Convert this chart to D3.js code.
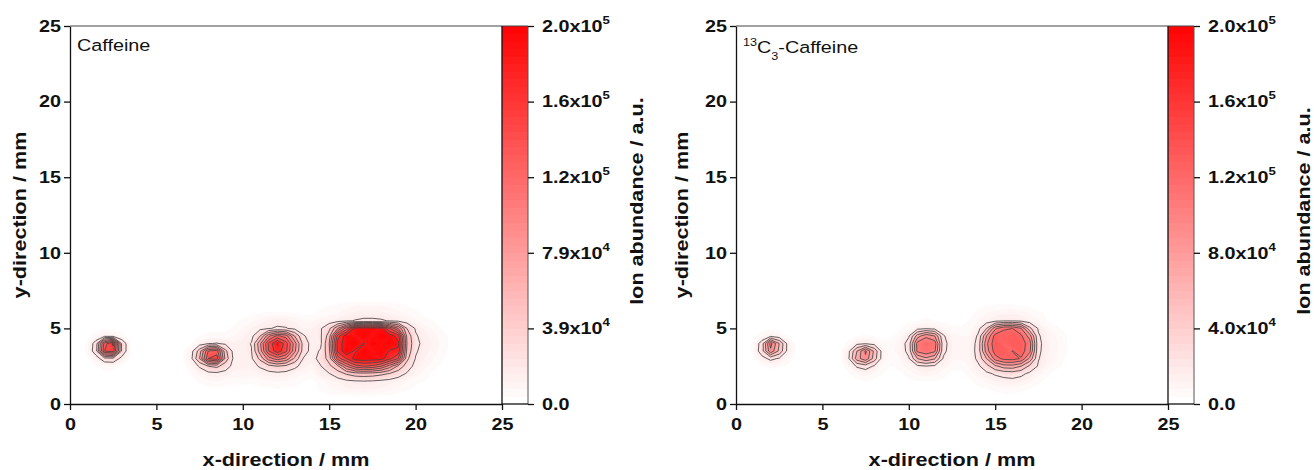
<!DOCTYPE html>
<html>
<head>
<meta charset="utf-8">
<script src="https://cdn.jsdelivr.net/npm/d3@7"></script>
<style>
  body { margin: 0; background: #fff; }
</style>
</head>
<body>
<svg id="chart" width="1314" height="470"></svg>
<script>
// ion images, sampled every 0.5 mm, values in 10^3 counts
// columns: x = 0.5 ... 22.5 mm, rows: y = 7.0 (top) ... 0.5 mm
const gridX0 = 0.5, gridStep = 0.5, gridYTop = 7.0;
const valueUnit = 1000;

const caffeine = [
  [0,0,0,0,0,0,0,0,0,0, 0,0,0,0,0,0,0,0,0,0, 0,0,0,0,0,0,0,0,0,0, 0,0,0,0,0,0,0,0,0,0, 0,0,0,0,0],
  [0,0,0,0,0,0,0,0,0,0, 0,0,0,0,0,0,0,0,0,0, 0,0,0,0,0,0,0,0,3,4, 5,7,8,8,8,8,7,6,4,3, 2,0,0,0,0],
  [0,0,0,0,0,0,0,0,0,0, 0,0,0,0,0,0,0,0,0,2, 3,4,5,5,5,4,3,3,5,6, 8,11,13,14,14,13,11,9,7,5, 3,2,0,0,0],
  [0,0,0,0,0,0,0,0,0,0, 0,0,0,0,0,0,0,2,3,5, 7,10,13,15,14,11,8,8,10,12, 14,18,21,23,23,22,19,16,12,9, 6,4,2,0,0],
  [0,0,2,3,3,2,0,0,0,0, 0,0,0,0,2,2,2,3,5,8, 12,16,19,22,21,16,11,12,18,35, 80,130,188,192,190,188,140,100,40,18, 10,7,4,2,0],
  [0,2,8,14,12,6,2,0,0,0, 0,0,0,2,4,6,6,5,8,11, 15,40,95,125,110,60,22,13,17,50, 150,194,185,196,186,196,192,170,55,22, 14,10,6,3,0],
  [0,5,28,130,165,35,4,0,0,0, 0,0,2,4,12,19,21,17,13,13, 21,75,145,182,150,90,32,13,16,60, 170,190,198,178,196,190,195,185,60,24, 16,11,7,3,0],
  [0,6,30,140,150,35,4,0,0,0, 0,0,3,12,50,120,130,45,12,13, 19,70,140,172,145,85,30,13,22,55, 165,196,176,197,186,194,178,175,55,22, 14,10,6,3,0],
  [0,3,12,30,32,14,3,0,0,0, 0,0,3,14,60,140,150,52,14,12, 17,45,90,110,95,55,19,14,26,48, 130,160,190,192,190,188,165,140,45,19, 12,8,5,2,0],
  [0,0,4,7,7,4,0,0,0,0, 0,0,0,9,22,40,45,28,14,13, 14,22,32,40,34,24,14,10,19,35, 55,100,130,140,135,120,90,55,30,14, 9,6,3,0,0],
  [0,0,0,2,2,0,0,0,0,0, 0,0,0,5,10,14,15,14,10,10, 9,12,14,15,14,11,8,6,14,19, 30,42,50,52,50,45,38,28,18,10, 6,3,0,0,0],
  [0,0,0,0,0,0,0,0,0,0, 0,0,0,0,5,7,8,6,6,6, 5,6,7,8,7,6,4,3,6,10, 12,16,18,19,18,16,14,11,8,5, 4,2,0,0,0],
  [0,0,0,0,0,0,0,0,0,0, 0,0,0,0,2,3,3,3,2,2, 2,3,3,4,3,3,2,2,5,7, 9,11,12,13,12,11,9,7,5,3, 0,0,0,0,0],
  [0,0,0,0,0,0,0,0,0,0, 0,0,0,0,0,0,0,0,0,0, 0,0,2,2,2,0,0,0,2,3, 3,3,3,3,3,3,3,2,0,0, 0,0,0,0,0]
];

const caffeine13C3 = [
  [0,0,0,0,0,0,0,0,0,0, 0,0,0,0,0,0,0,0,0,0, 0,0,0,0,0,0,0,0,0,0, 0,0,0,0,0,0,0,0,0,0, 0,0,0,0,0],
  [0,0,0,0,0,0,0,0,0,0, 0,0,0,0,0,0,0,0,0,0, 0,0,0,0,0,0,0,3,4,5, 5,5,4,3,0,0,0,0,0,0, 0,0,0,0,0],
  [0,0,0,0,0,0,0,0,0,0, 0,0,0,0,0,0,0,0,0,2, 2,3,2,2,0,0,2,6,8,10, 11,11,10,8,6,3,0,0,0,0, 0,0,0,0,0],
  [0,0,0,0,0,0,0,0,0,0, 0,0,0,0,0,0,0,0,2,3, 4,5,4,3,2,2,4,8,12,16, 19,19,17,12,8,4,2,0,0,0, 0,0,0,0,0],
  [0,0,2,3,2,0,0,0,0,0, 0,0,0,0,0,0,0,2,4,8, 14,17,14,9,5,5,6,14,40,95, 118,120,101,45,18,9,6,3,0,0, 0,0,0,0,0],
  [0,2,8,14,10,4,0,0,0,0, 0,0,2,4,5,4,2,3,8,18, 70,95,80,22,10,8,8,22,80,128, 126,130,124,90,22,12,8,5,2,0, 0,0,0,0,0],
  [0,5,28,108,60,14,3,0,0,0, 0,0,6,15,18,14,6,6,10,28, 108,118,112,26,12,10,10,25,95,135, 122,132,130,110,24,13,9,5,2,0, 0,0,0,0,0],
  [0,6,30,95,55,14,3,0,0,0, 0,2,14,60,104,55,10,7,10,26, 105,115,104,24,12,10,10,26,90,130, 132,119,130,105,23,13,9,5,2,0, 0,0,0,0,0],
  [0,3,14,24,18,8,2,0,0,0, 0,2,16,70,95,50,10,6,8,18, 60,75,62,18,9,8,9,24,60,110, 126,128,118,75,21,12,8,4,2,0, 0,0,0,0,0],
  [0,0,4,6,5,3,0,0,0,0, 0,0,8,22,28,18,6,4,6,10, 16,19,16,10,6,6,8,16,32,55, 70,72,60,35,18,10,6,3,0,0, 0,0,0,0,0],
  [0,0,0,0,0,0,0,0,0,0, 0,0,3,8,10,8,4,0,3,6, 9,10,9,6,3,2,6,11,16,22, 26,28,24,16,10,5,2,0,0,0, 0,0,0,0,0],
  [0,0,0,0,0,0,0,0,0,0, 0,0,0,3,4,3,0,0,0,3, 4,4,4,3,0,0,3,6,9,12, 14,15,13,9,5,3,0,0,0,0, 0,0,0,0,0],
  [0,0,0,0,0,0,0,0,0,0, 0,0,0,0,0,0,0,0,0,0, 0,0,0,0,0,0,2,3,4,5, 6,6,5,4,3,0,0,0,0,0, 0,0,0,0,0],
  [0,0,0,0,0,0,0,0,0,0, 0,0,0,0,0,0,0,0,0,0, 0,0,0,0,0,0,0,0,2,2, 3,3,2,0,0,0,0,0,0,0, 0,0,0,0,0]
];

const lineLevels = [20, 40, 60, 80, 100, 120, 140, 160, 180];   // 10^3
const axisTicks = [0, 5, 10, 15, 20, 25];
const zMaxCaffeine = 197, zMax13C3 = 200;                          // 10^3
const cbLabelsCaffeine = [["0.0", ""], ["3.9", "4"], ["7.9", "4"], ["1.2", "5"], ["1.6", "5"], ["2.0", "5"]];
const cbLabels13C3 = [["0.0", ""], ["4.0", "4"], ["8.0", "4"], ["1.2", "5"], ["1.6", "5"], ["2.0", "5"]];
const nBands = 50;

const FONT = "'Liberation Sans', Arial, Helvetica, sans-serif";
const SX = 1.2;   // the original lettering is drawn wide
const W = 432, H = 378, cbW = 26, plotTop = 26;

var svg = d3.select("#chart");

function stretch(sel) {
  sel.attr("x", function () { return (+this.getAttribute("x") || 0) / SX; })
    .attr("transform", function () { return (this.getAttribute("transform") || "") + " scale(" + SX + ",1)"; });
}

function styleAxis(a) {
  a.attr("font-family", FONT).attr("font-size", 16.5).attr("font-weight", "bold");
  a.selectAll("line").attr("stroke", "#111").attr("stroke-width", 1.3);
  a.select(".domain").attr("stroke", "#111").attr("stroke-width", 1.3);
  a.selectAll("text").attr("fill", "#111");
}

function drawPanel(p) {
  var g = svg.append("g").attr("transform", `translate(${p.x},${plotTop})`);
  var x = d3.scaleLinear().domain([0, 25]).range([0, W]);
  var y = d3.scaleLinear().domain([0, 25]).range([H, 0]);
  var zMax = p.zMax * valueUnit;
  var color = d3.scaleLinear().domain([0, zMax]).range(["#ffffff", "#ff0000"]);

  var nx = p.rows[0].length, ny = p.rows.length;
  var values = p.rows.flat().map(v => v * valueUnit);
  var proj = d3.geoTransform({
    point: function (px, py) {
      this.stream.point(x(gridX0 + (px - 0.5) * gridStep), y(gridYTop - (py - 0.5) * gridStep));
    }
  });
  var path = d3.geoPath(proj);
  var bandStep = zMax / nBands;

  // filled bands
  g.append("g")
    .selectAll("path")
    .data(d3.contours().size([nx, ny]).thresholds(d3.range(1, nBands).map(k => k * bandStep))(values))
    .join("path")
    .attr("d", path)
    .attr("fill", d => color(d.value));

  // contour lines
  g.append("g")
    .selectAll("path")
    .data(d3.contours().size([nx, ny]).thresholds(lineLevels.map(v => v * valueUnit))(values))
    .join("path")
    .attr("d", path)
    .attr("fill", "none")
    .attr("stroke", "#444")
    .attr("stroke-width", 0.85);

  // colour bar
  var cb = d3.scaleLinear().domain([0, zMax]).range([H, 0]);
  var cbG = g.append("g").attr("transform", `translate(${W},0)`);
  cbG.selectAll("rect")
    .data(d3.range(0, nBands).map(k => k * bandStep))
    .join("rect")
    .attr("x", 0)
    .attr("width", cbW)
    .attr("y", d => cb(d + bandStep))
    .attr("height", d => cb(d) - cb(d + bandStep) + 0.4)
    .attr("fill", d => color(d))
    .attr("shape-rendering", "crispEdges");
  cbG.append("line").attr("x1", cbW).attr("x2", cbW).attr("y1", 0).attr("y2", H)
    .attr("stroke", "#555").attr("stroke-width", 1);

  var cbAxis = cbG.append("g")
    .attr("transform", `translate(${cbW},0)`)
    .call(d3.axisRight(cb)
      .tickValues(p.cbLabels.map((_, i) => i * zMax / 5))
      .tickSize(6).tickPadding(8).tickSizeOuter(0)
      .tickFormat((d, i) => p.cbLabels[i][0] + (p.cbLabels[i][1] ? "x10" : "")));
  styleAxis(cbAxis);
  cbAxis.select(".domain").remove();
  cbAxis.selectAll("text").each(function (d, i) {
    if (p.cbLabels[i][1]) {
      d3.select(this).append("tspan").attr("dy", -8).attr("font-size", 11).text(p.cbLabels[i][1]);
    }
  });
  stretch(cbAxis.selectAll("text"));

  // axes
  var ya = g.append("g").call(d3.axisLeft(y).tickValues(axisTicks).tickSize(6).tickPadding(3).tickSizeOuter(0));
  styleAxis(ya);
  stretch(ya.selectAll("text"));
  var xa = g.append("g").attr("transform", `translate(0,${H})`)
    .call(d3.axisBottom(x).tickValues(axisTicks).tickSize(6).tickPadding(8).tickSizeOuter(0));
  styleAxis(xa);
  stretch(xa.selectAll("text"));

  // frame
  g.append("line").attr("x1", 0).attr("x2", W + cbW).attr("y1", 0).attr("y2", 0)
    .attr("stroke", "#444").attr("stroke-width", 1);
  g.append("line").attr("x1", W).attr("x2", W + cbW).attr("y1", H).attr("y2", H)
    .attr("stroke", "#111").attr("stroke-width", 1.3);
  g.append("line").attr("x1", W).attr("x2", W).attr("y1", 0).attr("y2", H)
    .attr("stroke", "#111").attr("stroke-width", 1.3);

  // titles
  svg.append("text")
    .attr("transform", `translate(${p.x + W / 2},466) scale(${SX},1)`)
    .attr("text-anchor", "middle").attr("font-family", FONT).attr("font-size", 18).attr("font-weight", "bold")
    .attr("fill", "#111")
    .text("x-direction / mm");
  svg.append("text")
    .attr("transform", `translate(${p.yTitleX},215) rotate(-90) scale(${SX},1)`)
    .attr("text-anchor", "middle").attr("font-family", FONT).attr("font-size", 18).attr("font-weight", "bold")
    .attr("fill", "#111")
    .text("y-direction / mm");
  svg.append("text")
    .attr("transform", `translate(${p.cbTitleX},${p.cbTitleY}) rotate(-90) scale(${SX},1)`)
    .attr("text-anchor", "middle").attr("font-family", FONT).attr("font-size", 18).attr("font-weight", "bold")
    .attr("fill", "#111")
    .text("Ion abundance / a.u.");

  // compound label
  var lab = svg.append("text")
    .attr("transform", `translate(${p.x + p.labelDX},${p.labelY}) scale(${SX},1)`)
    .attr("font-family", FONT).attr("font-size", 16.5).attr("fill", "#111");
  p.label.forEach(function (s) {
    var t = lab.append("tspan").text(s.text);
    if (s.dy) t.attr("dy", s.dy);
    if (s.size) t.attr("font-size", s.size);
  });
}

drawPanel({
  x: 70, rows: caffeine, zMax: zMaxCaffeine, cbLabels: cbLabelsCaffeine,
  yTitleX: 26, cbTitleX: 643, cbTitleY: 201, labelDX: 7, labelY: 51,
  label: [{ text: "Caffeine" }]
});
drawPanel({
  x: 736, rows: caffeine13C3, zMax: zMax13C3, cbLabels: cbLabels13C3,
  yTitleX: 688, cbTitleX: 1310, cbTitleY: 211, labelDX: 7, labelY: 53,
  label: [
    { text: "13", dy: -6.6, size: 10.5 },
    { text: "C", dy: 6.6 },
    { text: "3", dy: 6.7, size: 10.5 },
    { text: "-Caffeine", dy: -6.7 }
  ]
});
</script>
</body>
</html>
